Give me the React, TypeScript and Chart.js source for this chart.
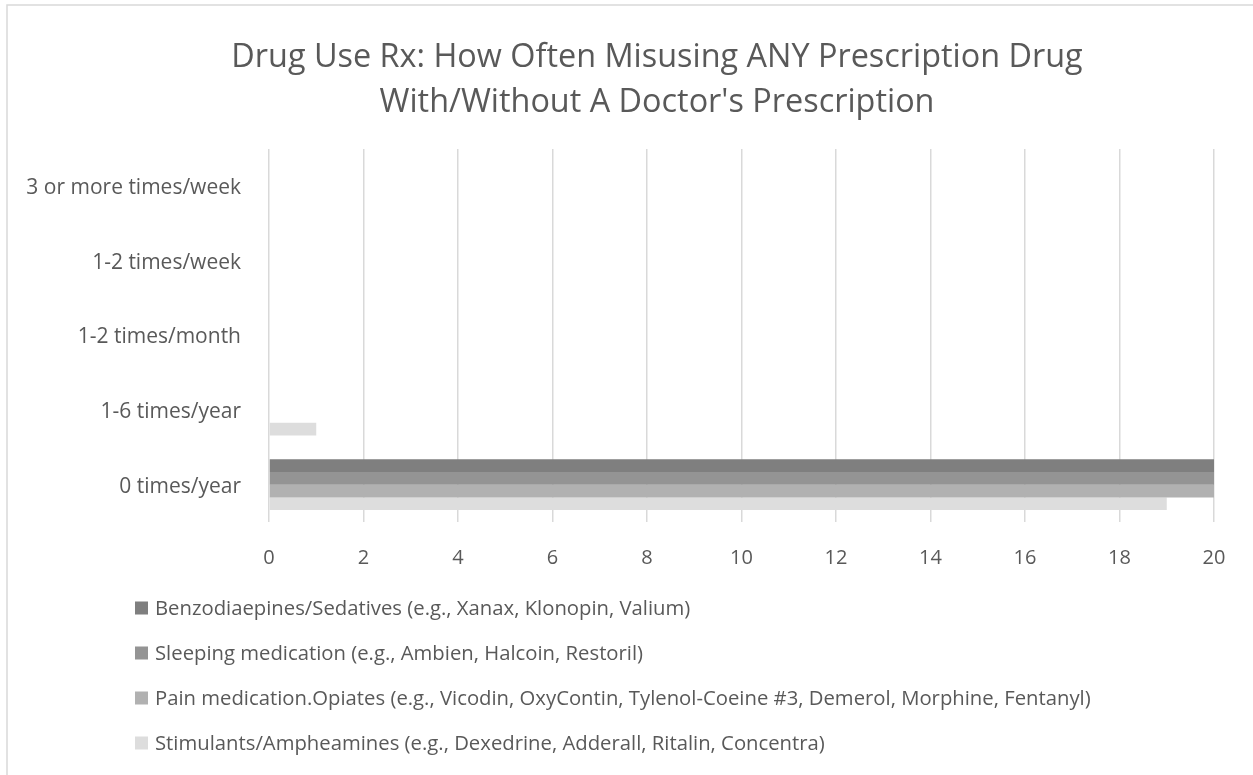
import React, { useEffect, useRef } from 'react';
import { Chart, registerables } from 'chart.js';

Chart.register(...registerables);

const categories = ['3 or more times/week', '1-2 times/week', '1-2 times/month', '1-6 times/year', '0 times/year'];
const seriesNames = [
  'Benzodiaepines/Sedatives (e.g., Xanax, Klonopin, Valium)',
  'Sleeping medication (e.g., Ambien, Halcoin, Restoril)',
  'Pain medication.Opiates (e.g., Vicodin, OxyContin, Tylenol-Coeine #3, Demerol, Morphine, Fentanyl)',
  'Stimulants/Ampheamines (e.g., Dexedrine, Adderall, Ritalin, Concentra)',
];
const benzoValues = [0, 0, 0, 0, 20];
const sleepingValues = [0, 0, 0, 0, 20];
const painValues = [0, 0, 0, 0, 20];
const stimulantValues = [0, 0, 0, 1, 19];
const seriesColors = ['#7f7f7f', '#949494', '#b1b1b1', '#dddddd'];
const titleLines = ['Drug Use Rx: How Often Misusing ANY Prescription Drug', "With/Without A Doctor's Prescription"];
const xMin = 0;
const xMax = 20;
const xStep = 2;

const FONT = '"Open Sans", sans-serif';
const TEXT = '#595959';

export default function App() {
  const ref = useRef<HTMLCanvasElement>(null);

  useEffect(() => {
    const canvas = ref.current;
    if (!canvas) return;
    const values = [benzoValues, sleepingValues, painValues, stimulantValues];

    const framePlugin = {
      id: 'frameAndLegend',
      afterLayout(chart: any) {
        // the original chart frame is wider than the view; centre the title on it
        if (chart.titleBlock) {
          chart.titleBlock.left = 100;
          chart.titleBlock.right = 1214;
        }
      },
      afterDraw(chart: any) {
        const ctx = chart.ctx;
        ctx.save();
        ctx.strokeStyle = '#d9d9d9';
        ctx.lineWidth = 1.5;
        ctx.beginPath();
        ctx.moveTo(7, chart.height);
        ctx.lineTo(7, 5);
        ctx.lineTo(chart.width, 5);
        ctx.stroke();
        // legend
        ctx.font = `20.3px ${FONT}`;
        ctx.textBaseline = 'middle';
        ctx.textAlign = 'left';
        chart.data.datasets.forEach((ds: any, i: number) => {
          const y = 608 + i * 45;
          ctx.fillStyle = ds.backgroundColor;
          ctx.fillRect(135, y - 6.5, 13, 13);
          ctx.fillStyle = TEXT;
          ctx.fillText(ds.label, 155, y + 1);
        });
        ctx.restore();
      },
    };

    const chart = new Chart(canvas, {
      type: 'bar',
      data: {
        labels: categories,
        datasets: seriesNames.map((name, i) => ({
          label: name,
          data: values[i],
          backgroundColor: seriesColors[i],
          borderWidth: 0,
          categoryPercentage: 0.68,
          barPercentage: 1.0,
        })),
      },
      options: {
        indexAxis: 'y',
        responsive: false,
        animation: false,
        layout: { padding: { left: 0, right: 100, top: 0, bottom: 200 } },
        plugins: {
          legend: { display: false },
          tooltip: { enabled: false },
          title: {
            display: true,
            text: titleLines,
            color: TEXT,
            font: { family: FONT, size: 32.4, weight: 'normal', lineHeight: 45 / 32.4 },
            padding: { top: 35, bottom: 24 },
          },
        },
        scales: {
          x: {
            min: xMin,
            max: xMax,
            ticks: { stepSize: xStep, color: TEXT, font: { family: FONT, size: 20 }, padding: 24 },
            grid: { color: '#d9d9d9', lineWidth: 1.5, drawTicks: false },
            border: { display: false },
            afterFit: (scale: any) => { scale.height = 53; },
          },
          y: {
            ticks: { color: TEXT, font: { family: FONT, size: 21 }, padding: 28, labelOffset: 2 },
            grid: { display: false, drawTicks: false },
            border: { display: false },
            afterFit: (scale: any) => { scale.width = 269; },
          },
        },
      },
      plugins: [framePlugin],
    } as any);

    return () => chart.destroy();
  }, []);

  return (
    <div style={{ position: 'fixed', left: 0, top: 0, width: 1253, height: 775, overflow: 'hidden', background: '#fff' }}>
      <canvas ref={ref} width={1314} height={775} style={{ width: 1314, height: 775, display: 'block' }} />
    </div>
  );
}
